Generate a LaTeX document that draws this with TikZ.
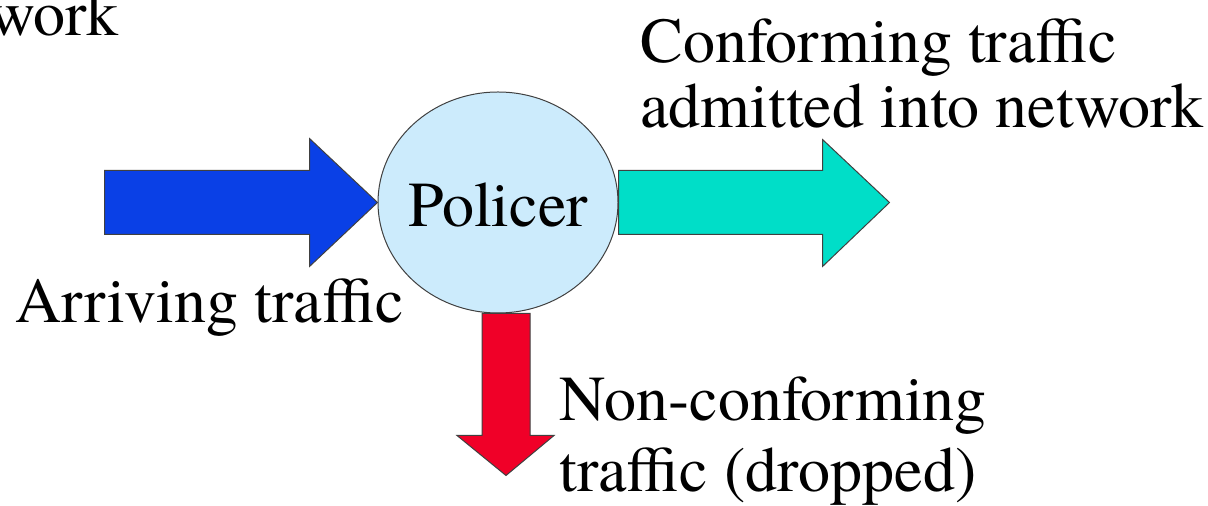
\documentclass[tikz,border=0pt]{standalone}
\usepackage{fontspec}
\setmainfont{TeX Gyre Termes}
\usetikzlibrary{shapes.geometric}
\definecolor{arrivefill}{RGB}{10,64,230}
\definecolor{admitfill}{RGB}{0,222,200}
\definecolor{dropfill}{RGB}{240,0,40}
\definecolor{policerfill}{RGB}{204,235,252}
\tikzset{
    lbl/.style={inner sep=0pt,anchor=base west,font=\fontsize{32}{34}\selectfont},
    blockarrow/.style={draw=black!75,line width=0.5pt,line join=miter},
}
\begin{document}
\begin{tikzpicture}[x=0.5pt,y=-0.5pt]
    \useasboundingbox (0,0) rectangle (1208,506);
    \draw (498,202.5)node[ellipse,draw=black!75,line width=0.5pt,fill=policerfill,minimum width=120pt,minimum height=110.5pt,inner sep=0pt](policer){};
    \node[lbl,anchor=base] (policertext) at (498,227) {Policer};
    \draw[blockarrow,fill=arrivefill,shift={(policer.west)}] (-273,-32) -- (-68,-32) -- (-68,-64) -- (0,0) -- (-68,64) -- (-68,32) -- (-273,32) -- cycle;
    \draw[blockarrow,fill=admitfill,shift={(policer.east)}] (0,-32) -- (204,-32) -- (204,-63) -- (271,0) -- (204,64) -- (204,32) -- (0,32) -- cycle;
    \draw[blockarrow,fill=dropfill,shift={(policer.south)}] (-16,0) -- (-16,122) -- (-41,122) -- (8,162) -- (56,122) -- (32,122) -- (32,0) -- cycle;
    \node[lbl,anchor=base east] (net) at (119,36) {work};
    \node[lbl] (conf1) at (640,63) {Conforming traffic};
    \node[lbl] (conf2) at (640,128) {admitted into network};
    \node[lbl] (arrive) at (15,323) {Arriving traffic};
    \node[lbl] (drop1) at (559,421) {Non-conforming};
    \node[lbl] (drop2) at (559,492) {traffic (dropped)};
\end{tikzpicture}
\end{document}
